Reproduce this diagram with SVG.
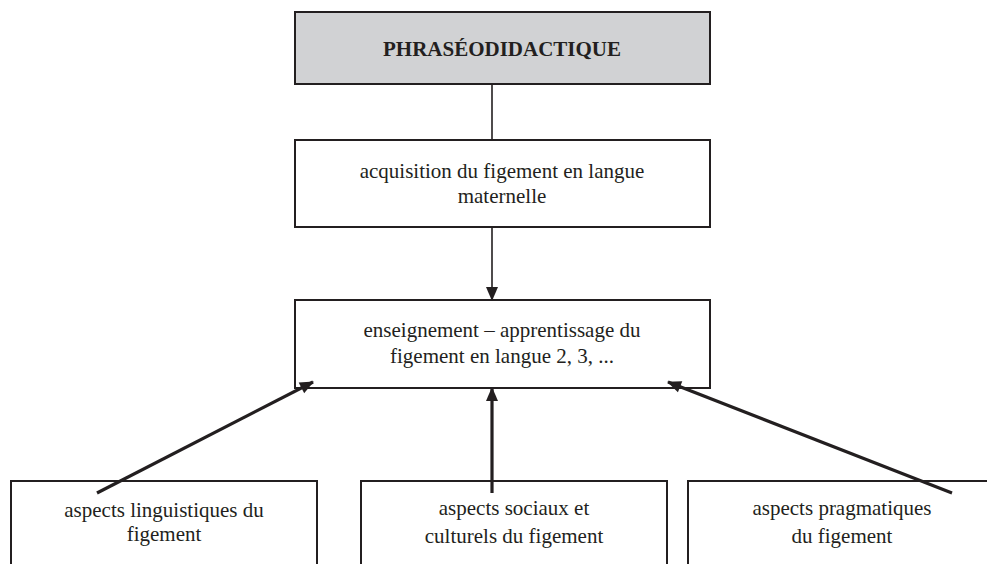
<svg xmlns="http://www.w3.org/2000/svg" width="987" height="564" viewBox="0 0 987 564">
<style>
.box{fill:#fff;stroke:#231f20;stroke-width:2}
.title{fill:#d1d2d4;stroke:#231f20;stroke-width:2}
.thin{stroke:#231f20;stroke-width:1.6;fill:none}
.thick{stroke:#231f20;stroke-width:3.2;fill:none}
</style>
<defs>
<marker id="ah" viewBox="0 0 14 12" refX="13" refY="6" markerWidth="14" markerHeight="12" markerUnits="userSpaceOnUse" orient="auto" overflow="visible">
<path d="M0,0 L14,6 L0,12 Z" fill="#231f20"/>
</marker>
</defs>
<rect width="987" height="564" fill="#fff"/>
<g font-family="'Liberation Serif', 'Times New Roman', serif" fill="#231f20" text-anchor="middle">
<g id="n1">
<rect class="title" x="295" y="12" width="415" height="72"/>
<text x="502" y="56" font-size="21" font-weight="bold">PHRASÉODIDACTIQUE</text>
</g>
<g id="n2" font-size="21">
<rect class="box" x="295" y="140" width="415" height="87"/>
<text x="502" y="178">acquisition du figement en langue</text>
<text x="502" y="203">maternelle</text>
</g>
<g id="n3" font-size="21">
<rect class="box" x="295" y="300" width="415" height="88"/>
<text x="502" y="337">enseignement – apprentissage du</text>
<text x="502" y="363">figement en langue 2, 3, ...</text>
</g>
<g id="n4" font-size="21">
<rect class="box" x="11" y="481" width="306" height="90"/>
<text x="164" y="517">aspects linguistiques du</text>
<text x="164" y="541">figement</text>
</g>
<g id="n5" font-size="21">
<rect class="box" x="361" y="481" width="306" height="90"/>
<text x="514" y="515">aspects sociaux et</text>
<text x="514" y="543">culturels du figement</text>
</g>
<g id="n6" font-size="21">
<rect class="box" x="688" y="481" width="308" height="90"/>
<text x="842" y="515">aspects pragmatiques</text>
<text x="842" y="543">du figement</text>
</g>
</g>
<g id="connectors">
<line class="thin" x1="492" y1="84" x2="492" y2="140"/>
<line class="thin" x1="492" y1="227" x2="492" y2="300" marker-end="url(#ah)"/>
<line class="thick" x1="97" y1="493" x2="313" y2="382" marker-end="url(#ah)"/>
<line class="thick" x1="492" y1="493" x2="492" y2="388" marker-end="url(#ah)"/>
<line class="thick" x1="952" y1="493" x2="668" y2="382" marker-end="url(#ah)"/>
</g>
</svg>
